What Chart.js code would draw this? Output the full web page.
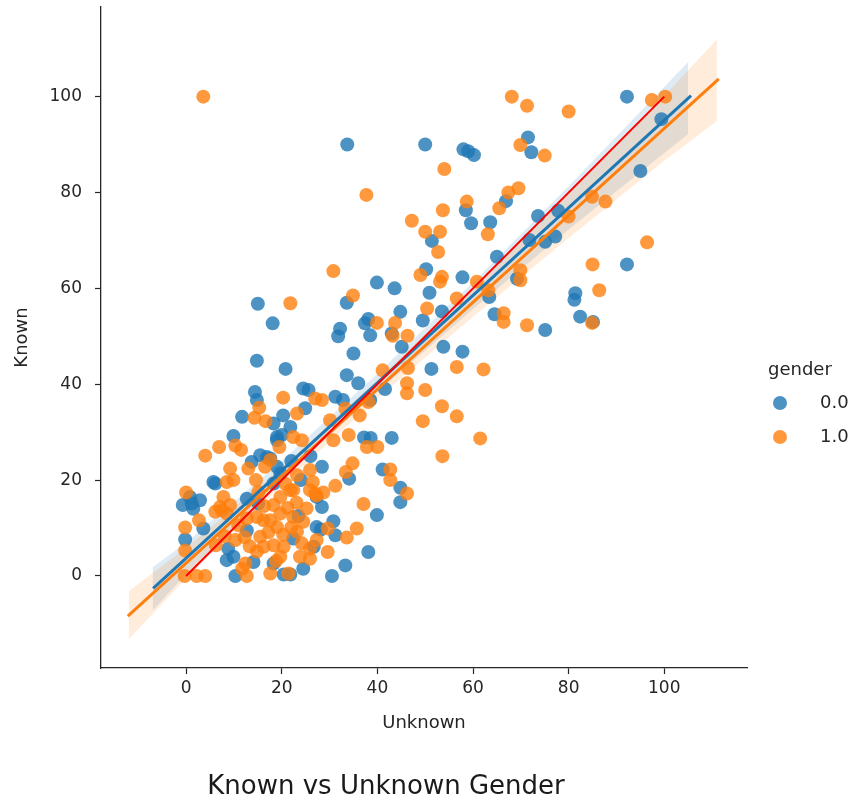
<!DOCTYPE html>
<html>
<head>
<meta charset="utf-8">
<title>Known vs Unknown Gender</title>
<script src="https://cdn.jsdelivr.net/npm/chart.js@4/dist/chart.umd.min.js"></script>
<style>
  html, body { margin: 0; padding: 0; background: #fff; }
  #wrap { width: 853px; height: 803px; }
</style>
</head>
<body>
<div id="wrap"><canvas id="chart" width="853" height="803"></canvas></div>
<script>
// ---- data ----
const xTicks = [0, 20, 40, 60, 80, 100];
const yTicks = [0, 20, 40, 60, 80, 100];
const legendTitle = "gender";
const legendLabels = ["0.0", "1.0"];

// gender 0.0
const blueX = [33.7, 50, 58, 59, 60.2, 92.2, 71.5, 72.2, 99.4, 95, 66.9, 58.5, 59.6, 63.6, 73.6, 77.8, 71.8, 75.1, 77.2, 51.4,
  50.2, 39.9, 43.6, 50.9, 57.8, 65, 92.2, 81.4, 69.2, 63.4, 33.6, 44.8, 49.5, 53.5, 64.5, 32.2, 31.8, 38.1, 37.4, 38.5,
  43, 82.4, 75.1, 85.1, 81.2, 35, 53.8, 57.8, 51.3, 45.1, 33.6, 36, 41.6, 24.5, 25.6, 31.2, 32.8, 38.5, 24.9, 43,
  37.2, 38.6, 41.1, 44.8, 44.8, 39.9, 28.2, 30.8, 31.2, 38.1, 33.3, 30.5, 24.5, 34.1, 27.3, 28.4, 28.4, 15, 18.1, 14.8,
  20.8, 14.4, 14.8, 11.7, 9.9, 20.3, 18.3, 21.8, 1.2, 2.9, -0.7, -0.2, 5.7, 9.9, 8.5, 10.3, 20.4, 21.8, 12.7, 19,
  16.9, 19, 6.1, 0.8, 1.5, 3.6, 8.8, 14.1, 18.3, 13.7, 15.5, 17.6, 19, 20, 19.7, 18.3, 12.7, 15.1, 22.4, 27.3,
  26.7, 24, 22, 26, 23.5];
const blueY = [90, 90, 89, 88.6, 87.8, 100, 91.5, 88.4, 95.3, 84.5, 78.2, 76.3, 73.6, 73.8, 75.1, 76.2, 70.1, 69.7, 70.8, 69.9,
  64, 61.2, 60, 59.1, 62.3, 66.6, 65, 59, 62, 58.2, 57, 55.1, 53.3, 55.2, 54.6, 51.6, 50, 53.6, 52.7, 50.2,
  50.6, 54.1, 51.3, 53, 57.6, 46.4, 47.8, 46.8, 43.2, 47.8, 41.9, 40.2, 39, 39.1, 38.8, 37.4, 36.7, 36.7, 35, 28.8,
  28.9, 28.8, 22.2, 18.4, 15.4, 12.7, 9.7, 11.4, 8.5, 5, 2.2, 0, 1.5, 20.3, 16.5, 14.4, 22.8, 56.8, 52.7, 44.9,
  43.2, 38.4, 36.7, 33.2, 29.2, 33.5, 31.8, 31.1, 15.1, 15.8, 14.8, 7.6, 19.6, 4, 3.3, 0, 0.3, 0.3, 9.5, 22.8,
  24.8, 29, 19.3, 16.5, 14, 9.9, 5.7, 2.9, 2.6, 23.8, 25.2, 24.5, 28.3, 29.4, 21.4, 19.3, 16.1, 15.1, 7.8, 10.2,
  6.1, 20, 24, 25, 12.5];

// gender 1.0
const orangeX = [3.6, 68.1, 71.3, 80, 97.4, 100.2, 69.9, 75, 54, 37.7, 58.7, 67.4, 69.5, 65.5, 53.7, 47.2, 50, 53.1, 52.7, 63.1,
  30.8, 34.9, 49, 53.5, 53.1, 60.8, 69.9, 69.9, 63.2, 84.9, 87.7, 80, 96.4, 85, 86.4, 50.4, 39.9, 43.7, 43.2, 46.3,
  56.6, 66.4, 66.4, 71.3, 84.9, 41.1, 46.4, 56.6, 62.2, 46.2, 46.2, 50, 53.5, 56.6, 49.5, 61.5, 53.6, 36.3, 28.4, 33.3,
  30.1, 38.1, 37.8, 40, 34.8, 33.4, 31.2, 27, 28.7, 42.7, 42.7, 46.2, 37.1, 29.6, 35.7, 33.6, 29.6, 25.9, 30.8, 34,
  21.8, 20.3, 15.3, 14.3, 16.6, 23.2, 27, 4, 6.9, 10.3, 11.5, 0, 2.7, -0.2, -0.2, -0.3, 2.2, 4, 9.2, 7.8,
  9.2, 13, 14.6, 9.9, 8.5, 10.3, 12.4, 11.7, 12.7, 14.8, 16.2, 18.3, 19.7, 17.6, 21.4, 23.8, 24.2, 23.2, 19, 17.6,
  19.7, 18.3, 19.7, 22.4, 23.2, 25.9, 27.3, 25.2, 24.5, 27.3, 25.9, 15.1, 16.5, 17.6, 14.8, 12.7, 7.5, 10.9, 19.5, 22.4,
  24.2, 25.9, 7.1, 8.5, 20.4, 16.2, 21.8, 22.4, 6.1, 15.5, 17.2, 20.3, 22, 21.2, 23.1, 16.3, 12.2, 13.3, 8.1, 6.2,
  18.8, 20.8, 26.5];
const orangeY = [100, 100, 98.1, 96.9, 99.3, 100, 89.9, 87.7, 84.9, 79.5, 78.1, 80, 80.9, 76.7, 76.3, 74.1, 71.8, 71.8, 67.6, 71.3,
  63.6, 58.5, 62.8, 62.4, 61.4, 61.4, 63.8, 61.7, 59.6, 79.1, 78.1, 75, 69.6, 65, 59.6, 55.8, 52.8, 52.8, 50.1, 50.1,
  57.9, 54.8, 53, 52.3, 52.8, 42.9, 43.4, 43.6, 43.1, 40.2, 38.1, 38.8, 35.4, 33.3, 32.3, 28.7, 25, 33.5, 36.7, 34.9,
  32.5, 36.3, 26.9, 26.9, 23.5, 21.7, 18.8, 17.2, 17.4, 22.2, 20, 17.2, 15, 9.9, 9.9, 8, 5, 5.7, 28.3, 29.4,
  56.9, 37.2, 35.1, 33, 32.3, 33.9, 37, 25.1, 26.9, 27.2, 26.3, 17.4, 11.6, 10.1, 5.3, 0, 0, 0, 22.4, 16.5,
  14.8, 22.4, 20, 20, 19.6, 7.5, 2.6, 1.5, 0, 5.1, 6.1, 6.4, 4, 0.5, 0.5, 4, 6.8, 9.2, 10.2, 11.6,
  13, 14.8, 16.5, 17.9, 21, 17.9, 16.8, 14.1, 11.3, 7.5, 3.6, 17.5, 22.8, 24.2, 12.3, 12, 13.7, 10.6, 26.9, 29,
  28.3, 22.1, 14.4, 13, 6.1, 11.6, 17.9, 12.3, 13.4, 8.2, 9.1, 8.6, 10.1, 14.2, 15.3, 14.6, 8.1, 6.2, 8.3, 6.4,
  3.1, 19.2, 19.6];

// regression fits and their confidence bands
const blueFitX = [-6.9, 105.6];
const blueFitY = [-2.6, 100.2];
const blueBandX = [-7, 0, 20, 40, 60, 80, 105];
const blueBandLow = [-7.2, 0.4, 20.0, 38.4, 55.7, 72.3, 92.2];
const blueBandHigh = [1.8, 7.0, 24.0, 42.2, 61.3, 81.3, 107.2];

const orangeFitX = [-12.2, 111.4];
const orangeFitY = [-8.4, 103.7];
const orangeBandX = [-12, 0, 20, 40, 60, 80, 100, 111];
const orangeBandLow = [-13.2, -0.5, 18.9, 37.1, 54.1, 70.5, 86.6, 94.9];
const orangeBandHigh = [-3.2, 5.9, 22.7, 40.9, 60.1, 80.1, 100.2, 111.9];

const refX = [0, 100];
const refY = [0, 100];

const BLUE = "#1f77b4";
const ORANGE = "#ff7f0e";
const TEXT = "#262626";

function pts(xs, ys) {
  return xs.map((x, i) => ({ x: x, y: ys[i] }));
}

function lineSet(xs, ys, color, width, order) {
  return {
    data: pts(xs, ys),
    showLine: true,
    borderColor: color,
    borderWidth: width,
    pointRadius: 0,
    fill: false,
    order: order
  };
}

function bandSet(xs, ys, fill, color, order) {
  return {
    data: pts(xs, ys),
    showLine: true,
    borderWidth: 0,
    borderColor: "rgba(0,0,0,0)",
    backgroundColor: color,
    pointRadius: 0,
    fill: fill,
    order: order
  };
}

// legend drawn at a fixed spot to the right of the axes
const genderLegend = {
  id: "genderLegend",
  afterDraw(chart) {
    const ctx = chart.ctx;
    const colors = ["rgba(31,119,180,0.8)", "rgba(255,127,14,0.8)"];
    ctx.save();
    ctx.font = '18px "DejaVu Sans"';
    ctx.textBaseline = "middle";
    ctx.textAlign = "left";
    ctx.fillStyle = TEXT;
    ctx.fillText(legendTitle, 768, 370);
    legendLabels.forEach((label, i) => {
      const y = 403 + i * 34;
      ctx.fillStyle = colors[i];
      ctx.beginPath();
      ctx.arc(780, y, 7, 0, Math.PI * 2);
      ctx.fill();
      ctx.fillStyle = TEXT;
      ctx.fillText(label, 820, y);
    });
    ctx.restore();
  }
};

const ctx = document.getElementById("chart").getContext("2d");
new Chart(ctx, {
  type: "scatter",
  data: {
    datasets: [
      // 0,1: blue band; 2: blue fit
      bandSet(blueBandX, blueBandLow, false, "rgba(31,119,180,0.15)", 8),
      bandSet(blueBandX, blueBandHigh, "-1", "rgba(31,119,180,0.15)", 8),
      lineSet(blueFitX, blueFitY, BLUE, 3, 2),
      // 3,4: orange band; 5: orange fit
      bandSet(orangeBandX, orangeBandLow, false, "rgba(255,127,14,0.15)", 7),
      bandSet(orangeBandX, orangeBandHigh, "-1", "rgba(255,127,14,0.15)", 7),
      lineSet(orangeFitX, orangeFitY, ORANGE, 3, 1),
      // y = x reference
      lineSet(refX, refY, "red", 2, 0),
      {
        label: legendLabels[0],
        data: pts(blueX, blueY),
        pointRadius: 7,
        pointBorderWidth: 0,
        backgroundColor: "rgba(31,119,180,0.8)",
        order: 6
      },
      {
        label: legendLabels[1],
        data: pts(orangeX, orangeY),
        pointRadius: 7,
        pointBorderWidth: 0,
        backgroundColor: "rgba(255,127,14,0.8)",
        order: 5
      }
    ]
  },
  options: {
    responsive: false,
    animation: false,
    events: [],
    layout: { padding: { top: 7, left: 0, right: 81, bottom: 0 } },
    scales: {
      x: {
        type: "linear",
        min: -17.8,
        max: 117.3,
        afterBuildTicks: (s) => { s.ticks = xTicks.map(v => ({ value: v })); },
        afterFit: (s) => { s.height = 93.8; s.paddingLeft = 0; s.paddingRight = 0; },
        grid: { drawOnChartArea: false, drawTicks: true, tickLength: 6, tickColor: TEXT, tickWidth: 1.2 },
        border: { display: true, color: TEXT, width: 1.3 },
        ticks: { color: TEXT, padding: 4, font: { family: "DejaVu Sans", size: 17 }, maxRotation: 0 },
        title: { display: true, text: "Unknown", color: TEXT, font: { family: "DejaVu Sans", size: 18 }, padding: { top: 0, bottom: 28 } }
      },
      y: {
        type: "linear",
        min: -19.2,
        max: 118.7,
        afterBuildTicks: (s) => { s.ticks = yTicks.map(v => ({ value: v })); },
        afterFit: (s) => { s.width = 101; s.paddingTop = 0; s.paddingBottom = 0; },
        grid: { drawOnChartArea: false, drawTicks: true, tickLength: 6, tickColor: TEXT, tickWidth: 1.2 },
        border: { display: true, color: TEXT, width: 1.3 },
        ticks: { color: TEXT, padding: 13, font: { family: "DejaVu Sans", size: 17 } },
        title: { display: true, text: "Known", color: TEXT, font: { family: "DejaVu Sans", size: 18 }, padding: { top: 12, bottom: 0 } }
      },
      // empty strip on the right that keeps the title centred like the original figure
      spacer: {
        type: "linear",
        position: "right",
        display: true,
        afterFit: (s) => { s.width = 25; s.paddingTop = 0; s.paddingBottom = 0; },
        grid: { display: false },
        border: { display: false },
        ticks: { display: false }
      }
    },
    plugins: {
      legend: { display: false },
      tooltip: { enabled: false },
      title: {
        display: true,
        position: "bottom",
        text: "Known vs Unknown Gender",
        color: "#1a1a1a",
        font: { family: "DejaVu Sans", size: 26, weight: "normal" },
        padding: { top: 10, bottom: 0 }
      }
    }
  },
  plugins: [genderLegend]
});
</script>
</body>
</html>
